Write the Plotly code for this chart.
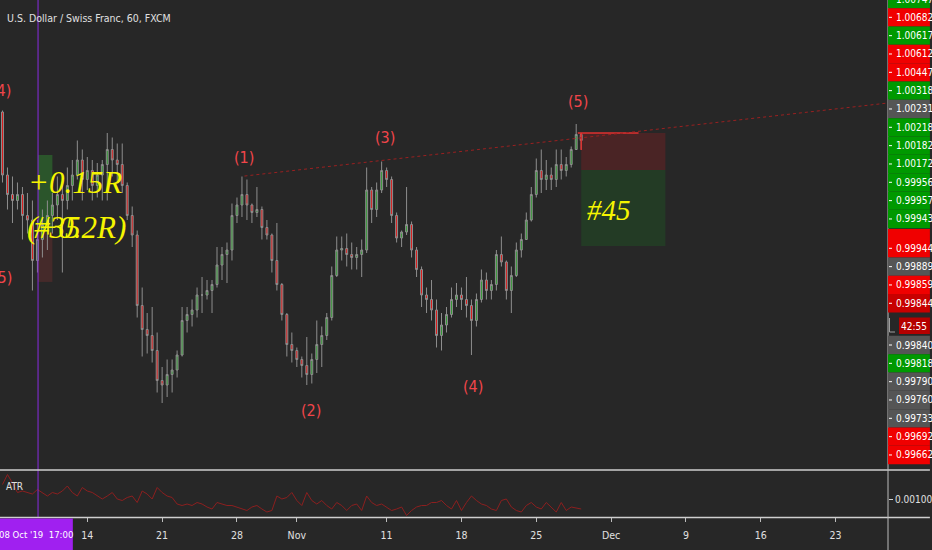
import pandas as pd
import plotly.graph_objects as go

# ---------------- data (8-hour bars) ----------------
HIGH = [1.0032, 0.9994, 0.9988, 0.9984, 0.9981, 0.9977, 0.9972, 0.9959, 0.9966, 0.9972,
        0.9977, 0.9988, 0.9984, 0.9994, 0.9999, 1.0012, 1.0006, 1.0001, 0.9999, 0.9997,
        0.9999, 1.0017, 1.0014, 1.0010, 1.0010, 0.9984, 0.9968, 0.9952, 0.9914, 0.9897,
        0.9901, 0.9884, 0.9861, 0.9866, 0.9866, 0.9872, 0.9901, 0.9901, 0.9906, 0.9914,
        0.9921, 0.9919, 0.9919, 0.9941, 0.9941, 0.9944, 0.9970, 0.9974, 0.9988, 0.9986,
        0.9970, 0.9981, 0.9968, 0.9959, 0.9950, 0.9957, 0.9917, 0.9897, 0.9884, 0.9874,
        0.9868, 0.9881, 0.9870, 0.9892, 0.9888, 0.9897, 0.9928, 0.9948, 0.9948, 0.9950,
        0.9944, 0.9941, 0.9946, 0.9994, 0.9981, 0.9984, 0.9998, 0.9994, 0.9988, 0.9964,
        0.9952, 0.9981, 0.9958, 0.9941, 0.9928, 0.9914, 0.9919, 0.9906, 0.9897, 0.9901,
        0.9914, 0.9917, 0.9914, 0.9921, 0.9906, 0.9910, 0.9926, 0.9924, 0.9919, 0.9939,
        0.9948, 0.9932, 0.9928, 0.9944, 0.9950, 0.9964, 0.9981, 1.0000, 1.0006, 0.9999,
        0.9994, 1.0006, 1.0006, 1.0001, 1.0008, 1.0023, 1.0017]
LOW = [0.9984, 0.9966, 0.9957, 0.9966, 0.9946, 0.9950, 0.9912, 0.9924, 0.9934, 0.9939,
       0.9950, 0.9959, 0.9924, 0.9966, 0.9972, 0.9986, 0.9972, 0.9979, 0.9972, 0.9974,
       0.9972, 0.9972, 0.9988, 0.9984, 0.9977, 0.9959, 0.9941, 0.9894, 0.9868, 0.9870,
       0.9864, 0.9844, 0.9837, 0.9841, 0.9844, 0.9854, 0.9868, 0.9884, 0.9888, 0.9894,
       0.9897, 0.9906, 0.9897, 0.9914, 0.9919, 0.9917, 0.9932, 0.9957, 0.9961, 0.9959,
       0.9957, 0.9961, 0.9946, 0.9946, 0.9924, 0.9912, 0.9892, 0.9868, 0.9864, 0.9861,
       0.9854, 0.9849, 0.9850, 0.9857, 0.9861, 0.9879, 0.9892, 0.9921, 0.9932, 0.9928,
       0.9926, 0.9926, 0.9921, 0.9937, 0.9957, 0.9961, 0.9977, 0.9981, 0.9957, 0.9944,
       0.9941, 0.9949, 0.9934, 0.9921, 0.9901, 0.9897, 0.9892, 0.9874, 0.9872, 0.9884,
       0.9894, 0.9901, 0.9899, 0.9894, 0.9869, 0.9888, 0.9904, 0.9906, 0.9906, 0.9912,
       0.9928, 0.9906, 0.9897, 0.9921, 0.9934, 0.9946, 0.9958, 0.9974, 0.9977, 0.9979,
       0.9979, 0.9981, 0.9986, 0.9988, 0.9994, 1.0006, 1.0006]
CLOSE = [0.9989, 0.9976, 0.9972, 0.9976, 0.9962, 0.9959, 0.9932, 0.9946, 0.9956, 0.9962,
         0.9969, 0.9976, 0.9972, 0.9982, 0.9989, 0.9999, 0.9986, 0.9992, 0.9982, 0.9989,
         0.9996, 1.0006, 0.9999, 0.9996, 0.9982, 0.9962, 0.9949, 0.9902, 0.9886, 0.9882,
         0.9872, 0.9852, 0.9849, 0.9856, 0.9859, 0.9869, 0.9892, 0.9896, 0.9899, 0.9909,
         0.9909, 0.9912, 0.9916, 0.9929, 0.9936, 0.9939, 0.9962, 0.9969, 0.9976, 0.9969,
         0.9964, 0.9966, 0.9954, 0.9949, 0.9932, 0.9916, 0.9896, 0.9876, 0.9872, 0.9866,
         0.9862, 0.9856, 0.9866, 0.9876, 0.9882, 0.9894, 0.9922, 0.9939, 0.9940, 0.9936,
         0.9934, 0.9936, 0.9939, 0.9979, 0.9966, 0.9979, 0.9992, 0.9986, 0.9962, 0.9947,
         0.9951, 0.9956, 0.9939, 0.9926, 0.9909, 0.9906, 0.9899, 0.9882, 0.9889, 0.9896,
         0.9906, 0.9909, 0.9906, 0.9902, 0.9892, 0.9906, 0.9919, 0.9912, 0.9916, 0.9936,
         0.9931, 0.9912, 0.9922, 0.9939, 0.9946, 0.9959, 0.9976, 0.9992, 0.9986, 0.9989,
         0.9986, 0.9996, 0.9992, 0.9996, 1.0006, 1.0016, 1.0012]
OPEN = [1.0031, 0.9989, 0.9976, 0.9972, 0.9976, 0.9962, 0.9959, 0.9932, 0.9946, 0.9956,
        0.9962, 0.9969, 0.9976, 0.9972, 0.9982, 0.9989, 0.9999, 0.9986, 0.9992, 0.9982,
        0.9989, 0.9996, 1.0006, 0.9999, 0.9996, 0.9982, 0.9962, 0.9949, 0.9902, 0.9886,
        0.9882, 0.9872, 0.9852, 0.9849, 0.9856, 0.9859, 0.9869, 0.9892, 0.9896, 0.9899,
        0.9909, 0.9909, 0.9912, 0.9916, 0.9929, 0.9936, 0.9939, 0.9962, 0.9969, 0.9976,
        0.9969, 0.9964, 0.9966, 0.9954, 0.9949, 0.9932, 0.9916, 0.9896, 0.9876, 0.9872,
        0.9866, 0.9862, 0.9856, 0.9866, 0.9876, 0.9882, 0.9894, 0.9922, 0.9939, 0.9940,
        0.9936, 0.9934, 0.9936, 0.9939, 0.9979, 0.9966, 0.9979, 0.9992, 0.9986, 0.9962,
        0.9947, 0.9951, 0.9956, 0.9939, 0.9926, 0.9909, 0.9906, 0.9899, 0.9882, 0.9889,
        0.9896, 0.9906, 0.9909, 0.9906, 0.9902, 0.9892, 0.9906, 0.9919, 0.9912, 0.9916,
        0.9936, 0.9931, 0.9912, 0.9922, 0.9939, 0.9946, 0.9959, 0.9976, 0.9992, 0.9986,
        0.9989, 0.9986, 0.9996, 0.9992, 0.9996, 1.0006, 1.0016]
ATR = [0.00129, 0.00149, 0.00132, 0.00113, 0.00116, 0.00113, 0.00110, 0.00119, 0.00113, 0.00106,
       0.00113, 0.00110, 0.00116, 0.00126, 0.00113, 0.00106, 0.00123, 0.00116, 0.00113, 0.00106,
       0.00100, 0.00106, 0.00113, 0.00100, 0.00097, 0.00103, 0.00106, 0.00093, 0.00116, 0.00110,
       0.00100, 0.00123, 0.00113, 0.00106, 0.00103, 0.00090, 0.00087, 0.00090, 0.00087, 0.00093,
       0.00090, 0.00084, 0.00080, 0.00093, 0.00090, 0.00087, 0.00087, 0.00084, 0.00080, 0.00077,
       0.00084, 0.00087, 0.00080, 0.00074, 0.00077, 0.00106, 0.00100, 0.00103, 0.00113, 0.00097,
       0.00087, 0.00113, 0.00097, 0.00090, 0.00097, 0.00087, 0.00080, 0.00093, 0.00087, 0.00077,
       0.00087, 0.00090, 0.00077, 0.00106, 0.00093, 0.00087, 0.00090, 0.00084, 0.00077, 0.00080,
       0.00084, 0.00067, 0.00077, 0.00084, 0.00087, 0.00087, 0.00093, 0.00093, 0.00097, 0.00087,
       0.00080, 0.00097, 0.00077, 0.00093, 0.00106, 0.00097, 0.00090, 0.00087, 0.00080, 0.00077,
       0.00097, 0.00100, 0.00084, 0.00077, 0.00074, 0.00087, 0.00093, 0.00084, 0.00080, 0.00093,
       0.00084, 0.00074, 0.00093, 0.00077, 0.00084, 0.00082, 0.00080]
FIRST_BAR = "2019-10-04 08:00"
BAR_HOURS = 8

TICK_DATES = ["2019-10-14", "2019-10-21", "2019-10-28", "2019-11-01", "2019-11-11",
              "2019-11-18", "2019-11-25", "2019-12-02", "2019-12-09", "2019-12-16", "2019-12-23"]
TICK_TEXT = ["14", "21", "28", "Nov", "11", "18", "25", "Dec", "9", "16", "23"]

WAVE_TEXT = ["(1)", "(2)", "(3)", "(4)", "(5)"]
WAVE_X = ["2019-10-28 12:00", "2019-11-01 23:00", "2019-11-08 21:30", "2019-11-18 18:30", "2019-11-27 18:30"]
WAVE_Y = [1.0001, 0.9832, 1.00143, 0.98483, 1.00377]

PRICE_LABELS = ["1.00747", "1.00682", "1.00617", "1.00612", "1.00447", "1.00318", "1.00231",
                "1.00218", "1.00182", "1.00172", "0.99956", "0.99957", "0.99943", "0.99944",
                "0.99889", "0.99859", "0.99844", "0.99840", "0.99818", "0.99790", "0.99760",
                "0.99733", "0.99692", "0.99662"]
PRICE_LABEL_KIND = ["g", "r", "g", "r", "r", "g", "n", "g", "g", "g", "g", "g", "g", "r",
                    "n", "r", "d", "n", "g", "n", "n", "n", "r", "r"]

# trade #45 (short) and #35 (long) position boxes
P45_X = ["2019-11-28 00:00", "2019-12-05 15:00"]
P45_STOP, P45_ENTRY, P45_TARGET = 1.0017, 0.99923, 0.99417
P35_X = ["2019-10-08 17:00", "2019-10-09 16:00"]
P35_TARGET, P35_ENTRY, P35_STOP = 1.00023, 0.9951, 0.99177
TREND_X = ["2019-10-28 12:00", "2019-12-26 12:00"]
TREND_Y = [0.99883, 1.0037]
CROSS_TIME = "2019-10-08 17:00"

# ---------------- build ----------------
times = []
t = pd.Timestamp(FIRST_BAR)
while len(times) < len(CLOSE):
    if t.weekday() < 5:
        times.append(t)
    t += pd.Timedelta(hours=BAR_HOURS)

BG = "#272727"
NARROW = "Liberation Sans Narrow, DejaVu Sans Condensed, Arial Narrow, sans-serif"
SERIF = "Liberation Serif, Times New Roman, serif"
W, H, R, B = 932, 550, 42, 33
PH = H - B          # plot-area height in px
PW = W - R


def py(p):
    return (PH - p) / PH


def pxp(p):
    return p / PW


fig = go.Figure()
fig.add_trace(go.Candlestick(
    x=times, open=OPEN, high=HIGH, low=LOW, close=CLOSE,
    increasing=dict(line=dict(color="#8e8e8e", width=1), fillcolor="#2f9a30"),
    decreasing=dict(line=dict(color="#8e8e8e", width=1), fillcolor="#e01414"),
    whiskerwidth=0, hoverinfo="skip", showlegend=False, yaxis="y"))
fig.add_trace(go.Scatter(
    x=times, y=ATR, mode="lines", line=dict(color="#8c1f1f", width=1),
    hoverinfo="skip", showlegend=False, yaxis="y2"))

shapes = []
# position box #35
shapes.append(dict(type="rect", xref="x", yref="y", x0=P35_X[0], x1=P35_X[1],
                   y0=P35_ENTRY, y1=P35_TARGET, fillcolor="#2b552b", line_width=0, layer="below"))
shapes.append(dict(type="rect", xref="x", yref="y", x0=P35_X[0], x1=P35_X[1],
                   y0=P35_STOP, y1=P35_ENTRY, fillcolor="#452a2a", line_width=0, layer="below"))
# position box #45
shapes.append(dict(type="rect", xref="x", yref="y", x0=P45_X[0], x1=P45_X[1],
                   y0=P45_ENTRY, y1=P45_STOP, fillcolor="#4a2425", line_width=0, layer="below"))
shapes.append(dict(type="rect", xref="x", yref="y", x0=P45_X[0], x1=P45_X[1],
                   y0=P45_TARGET, y1=P45_ENTRY, fillcolor="#233b25", line_width=0, layer="below"))
shapes.append(dict(type="line", xref="x", yref="y", x0="2019-11-27 18:30", x1="2019-12-03 20:00",
                   y0=P45_STOP, y1=P45_STOP, line=dict(color="#e0302f", width=1.5)))
shapes.append(dict(type="line", xref="x", yref="y", x0="2019-11-28 00:00", x1="2019-11-28 00:00",
                   y0=P45_STOP, y1=1.00057, line=dict(color="#e0302f", width=1.5)))
# dotted trendline
shapes.append(dict(type="line", xref="x", yref="y", x0=TREND_X[0], x1=TREND_X[1],
                   y0=TREND_Y[0], y1=TREND_Y[1], line=dict(color="#9a2020", width=1, dash="dot")))
# crosshair vertical
shapes.append(dict(type="line", xref="x", yref="paper", x0=CROSS_TIME, x1=CROSS_TIME,
                   y0=0, y1=1, line=dict(color="#8a2be2", width=1)))
# pane separators
shapes.append(dict(type="line", xref="paper", yref="paper", x0=0, x1=W / PW,
                   y0=py(470), y1=py(470), line=dict(color="#cfcfcf", width=1.5)))
shapes.append(dict(type="line", xref="paper", yref="paper", x0=0, x1=W / PW,
                   y0=py(517.5), y1=py(517.5), line=dict(color="#cfcfcf", width=1.5)))
shapes.append(dict(type="line", xref="paper", yref="paper", x0=1, x1=1,
                   y0=py(H), y1=py(0), line=dict(color="#bdbdbd", width=1)))
# time axis crosshair label
shapes.append(dict(type="rect", xref="paper", yref="paper", x0=0, x1=pxp(73),
                   y0=py(550), y1=py(518.5), fillcolor="#a020f0", line_width=0))

annotations = []
# right price-scale label stack
KIND_COL = {"g": "#009900", "r": "#f00000", "n": "#555555", "d": "#c80000"}
centers = []
c = -1.0
for i, lab in enumerate(PRICE_LABELS):
    if lab == "0.99944":
        c = 248.3
    if lab == "0.99840":
        c = 345.0
    centers.append(c)
    c += 18.33
for i, (lab, kind) in enumerate(zip(PRICE_LABELS, PRICE_LABEL_KIND)):
    cy = centers[i]
    top = cy - 9.17
    if lab == "0.99944":
        top = 229.0
    shapes.append(dict(type="rect", xref="paper", yref="paper", x0=1.0, x1=W / PW,
                       y0=py(cy + 9.17), y1=py(top), fillcolor=KIND_COL[kind], line_width=0))
    shapes.append(dict(type="line", xref="paper", yref="paper", x0=pxp(891), x1=pxp(894),
                       y0=py(cy), y1=py(cy), line=dict(color="#ffffff", width=1)))
    annotations.append(dict(xref="paper", yref="paper", x=pxp(896), y=py(cy), text=lab,
                            showarrow=False, xanchor="left", yanchor="middle",
                            font=dict(family=NARROW, size=10, color="#ffffff")))
# countdown box
shapes.append(dict(type="rect", xref="paper", yref="paper", x0=pxp(901), x1=W / PW,
                   y0=py(334), y1=py(317.5), fillcolor="#b50000", line_width=0))
shapes.append(dict(type="path", xref="paper", yref="paper",
                   path=f"M {pxp(891.5)},{py(318)} L {pxp(891.5)},{py(332)} L {pxp(897)},{py(332)}",
                   line=dict(color="#a0a0a0", width=1)))
annotations.append(dict(xref="paper", yref="paper", x=pxp(916.5), y=py(326), text="42:55",
                        showarrow=False, xanchor="center", yanchor="middle",
                        font=dict(family=NARROW, size=10, color="#ffffff")))

# title, pane label, crosshair time
annotations.append(dict(xref="paper", yref="paper", x=pxp(5), y=py(18), text="U.S. Dollar / Swiss Franc, 60, FXCM",
                        showarrow=False, xanchor="left", yanchor="middle",
                        font=dict(family=NARROW, size=10.5, color="#e0e0e0")))
annotations.append(dict(xref="paper", yref="paper", x=pxp(4), y=py(486), text="ATR",
                        showarrow=False, xanchor="left", yanchor="middle",
                        font=dict(family=NARROW, size=10, color="#e0e0e0")))
annotations.append(dict(xref="paper", yref="paper", x=pxp(36.5), y=py(534), text="08 Oct '19&nbsp;&nbsp;17:00",
                        showarrow=False, xanchor="center", yanchor="middle",
                        font=dict(family=NARROW, size=9.5, color="#ffffff")))

# Elliott wave labels
WAVE_COL = "#f0454a"
for txt, wx, wy in zip(WAVE_TEXT, WAVE_X, WAVE_Y):
    annotations.append(dict(xref="x", yref="y", x=wx, y=wy, text=txt, showarrow=False,
                            xanchor="center", yanchor="middle",
                            font=dict(family=NARROW, size=16, color=WAVE_COL)))
annotations.append(dict(xref="paper", yref="paper", x=pxp(1), y=py(90), text="(4)", showarrow=False,
                        xanchor="center", yanchor="middle", font=dict(family=NARROW, size=16, color=WAVE_COL)))
annotations.append(dict(xref="paper", yref="paper", x=pxp(2), y=py(277), text="(5)", showarrow=False,
                        xanchor="center", yanchor="middle", font=dict(family=NARROW, size=16, color=WAVE_COL)))

# trade texts
YEL = "#f5f500"
annotations.append(dict(xref="x", yref="y", x="2019-10-11 04:00", y=0.99837, text="<i>+0.15R</i>",
                        showarrow=False, font=dict(family=SERIF, size=31, color=YEL)))
annotations.append(dict(xref="x", yref="y", x="2019-10-11 07:00", y=0.99537, text="<i>(+0.2R)</i>",
                        showarrow=False, font=dict(family=SERIF, size=31, color=YEL)))
annotations.append(dict(xref="x", yref="y", x="2019-10-10 00:40", y=0.99537, text="<i>#35</i>",
                        showarrow=False, font=dict(family=SERIF, size=31, color=YEL)))
annotations.append(dict(xref="x", yref="y", x="2019-11-29 20:00", y=0.99657, text="<i>#45</i>",
                        showarrow=False, font=dict(family=SERIF, size=29, color=YEL)))

fig.update_layout(
    width=W, height=H, autosize=False,
    margin=dict(l=0, r=R, t=0, b=B, pad=0),
    paper_bgcolor=BG, plot_bgcolor=BG,
    showlegend=False, hovermode=False, boxgap=0.45,
    shapes=shapes, annotations=annotations,
    xaxis=dict(type="date", range=["2019-10-04 04:00", "2019-12-26 12:00"],
               rangebreaks=[dict(bounds=["sat", "mon"])],
               rangeslider=dict(visible=False),
               tickvals=TICK_DATES, ticktext=TICK_TEXT,
               ticks="outside", ticklen=4, tickcolor="#bdbdbd", ticklabelstandoff=4,
               tickfont=dict(family=NARROW, size=10.5, color="#e0e0e0"),
               showgrid=False, zeroline=False, showline=False, anchor="y2", fixedrange=True),
    yaxis=dict(domain=[py(469), 1], range=[0.9793, 1.010567], showticklabels=False,
               showgrid=False, zeroline=False, showline=False, side="right", fixedrange=True),
    yaxis2=dict(domain=[0, py(471)], range=[0.00064, 0.00156], side="right",
                tickvals=[0.001], ticktext=["0.00100"], ticks="outside", ticklen=4,
                tickcolor="#d0d0d0", tickfont=dict(family=NARROW, size=10, color="#e0e0e0"),
                showgrid=False, zeroline=False, showline=False, fixedrange=True),
)

fig.write_html("out.html", config={"displayModeBar": False},
               post_script="document.body.style.margin='0px';document.body.style.overflow='hidden';")
